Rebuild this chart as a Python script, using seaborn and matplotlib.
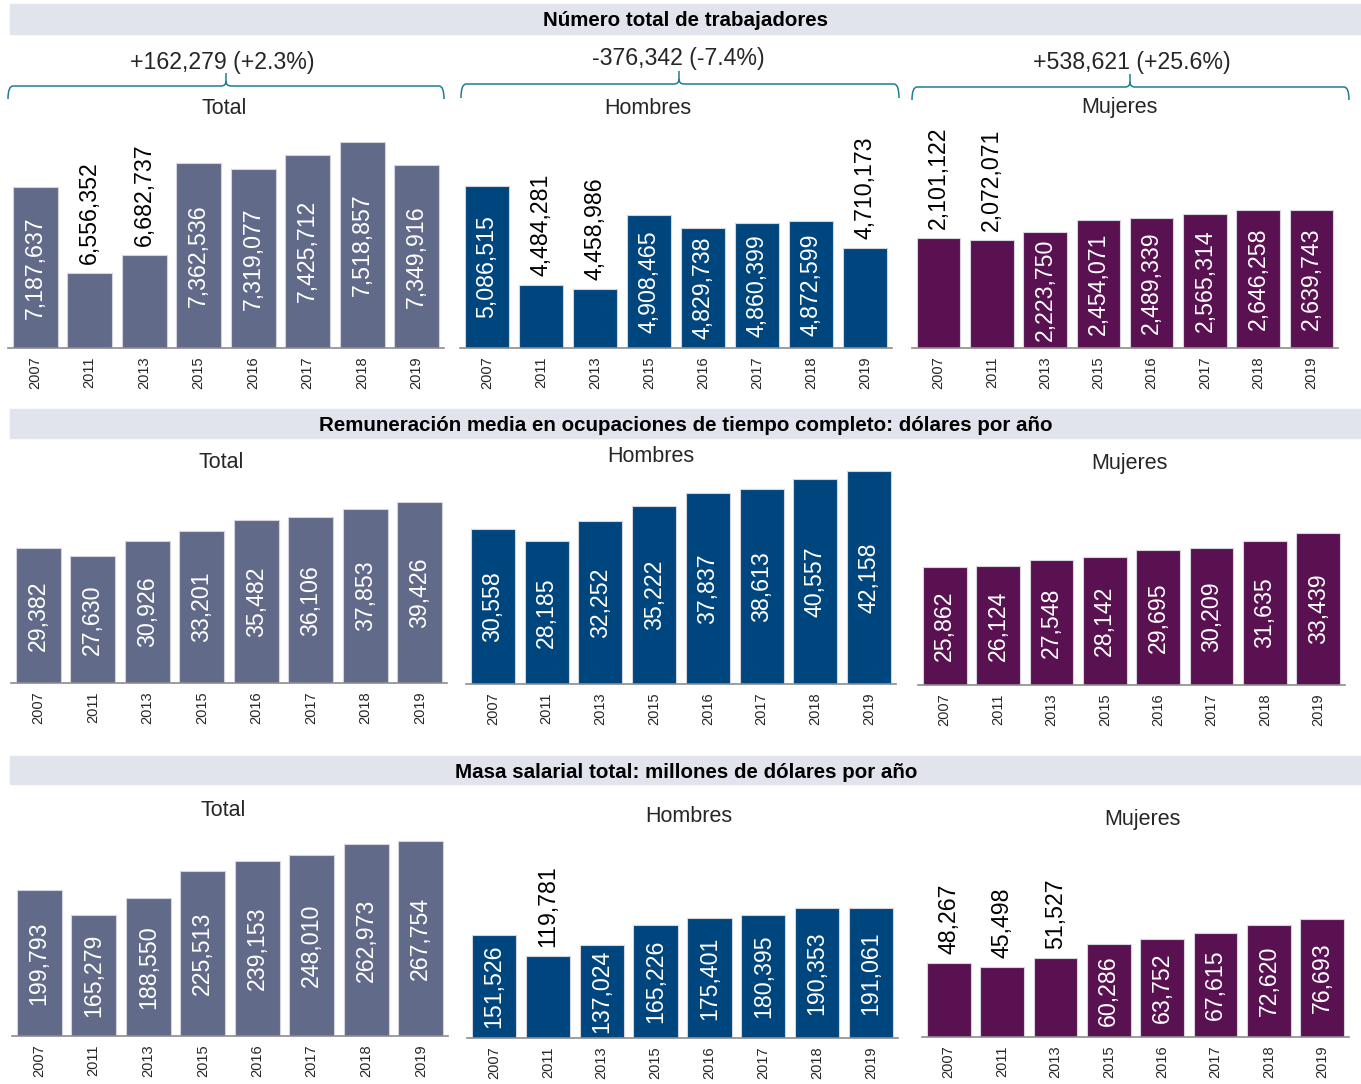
import numpy as np
import matplotlib
matplotlib.use("Agg")
import matplotlib.pyplot as plt
from matplotlib.path import Path
from matplotlib.patches import PathPatch, Rectangle
import seaborn as sns

W, H = 1361, 1084

years = ["2007", "2011", "2013", "2015", "2016", "2017", "2018", "2019"]

# Número total de trabajadores
trab_total = [7187637, 6556352, 6682737, 7362536, 7319077, 7425712, 7518857, 7349916]
trab_hombres = [5086515, 4484281, 4458986, 4908465, 4829738, 4860399, 4872599, 4710173]
trab_mujeres = [2101122, 2072071, 2223750, 2454071, 2489339, 2565314, 2646258, 2639743]

# Remuneración media (dólares por año)
rem_total = [29382, 27630, 30926, 33201, 35482, 36106, 37853, 39426]
rem_hombres = [30558, 28185, 32252, 35222, 37837, 38613, 40557, 42158]
rem_mujeres = [25862, 26124, 27548, 28142, 29695, 30209, 31635, 33439]

# Masa salarial total (millones de dólares por año)
masa_total = [199793, 165279, 188550, 225513, 239153, 248010, 262973, 267754]
masa_hombres = [151526, 119781, 137024, 165226, 175401, 180395, 190353, 191061]
masa_mujeres = [48267, 45498, 51527, 60286, 63752, 67615, 72620, 76693]

headers = [
    "Número total de trabajadores",
    "Remuneración media en ocupaciones de tiempo completo: dólares por año",
    "Masa salarial total: millones de dólares por año",
]

COL_TOTAL = "#626a8a"
COL_HOMBRES = "#00467e"
COL_MUJERES = "#5a1152"
HEADER_BG = "#e1e4ec"
BRACE = "#1f7d91"
AXIS_GRAY = "#8c8c8c"


def fx(x):
    return x / W


def fy(y):
    return 1 - y / H


def fig_rect(x0, x1, y_top, y_base):
    return [x0 / W, 1 - y_base / H, (x1 - x0) / W, (y_base - y_top) / H]


def bar_panel(fig, rect, values, color, ylim, outside):
    ax = fig.add_axes(rect)
    ax.patch.set_alpha(0)
    sns.barplot(x=years, y=values, ax=ax, color=color, saturation=1,
                width=0.82, edgecolor="#d4d4dc", linewidth=0.8)
    ax.set_xlim(-0.5, len(years) - 0.5)
    ax.set_ylim(*ylim)

    for i, v in enumerate(values):
        lab = f"{v:,}"
        if years[i] in outside:
            ax.annotate(lab, (i, v), xytext=(0, 6.5), textcoords="offset points",
                        rotation=90, ha="center", va="bottom", fontsize=16.7,
                        color="black", annotation_clip=False)
        else:
            ax.text(i, (ylim[0] + v) / 2, lab, rotation=90, ha="center",
                    va="center", fontsize=16.7, color="white")

    ax.set_xticks(range(len(years)))
    ax.set_xticklabels(years, rotation=90, fontsize=10.5)
    ax.tick_params(axis="x", which="major", length=0, pad=6)
    ax.set_xticks(np.arange(-0.5, len(years), 1), minor=True)
    ax.tick_params(axis="x", which="minor", length=4, width=1, color=AXIS_GRAY,
                   direction="out")
    ax.set_yticks([])
    ax.set_xlabel("")
    ax.set_ylabel("")
    for s in ["top", "right", "left"]:
        ax.spines[s].set_visible(False)
    ax.spines["bottom"].set_color(AXIS_GRAY)
    ax.spines["bottom"].set_linewidth(1.2)
    return ax


def draw_brace(fig, x0, x1, xm, y_line, y_end, y_tip):
    r = 5
    verts = [
        (x0, y_end), (x0, y_line), (x0 + r, y_line),
        (xm - r, y_line),
        (xm, y_line), (xm, y_line - r),
        (xm, y_tip),
        (xm, y_line - r),
        (xm, y_line), (xm + r, y_line),
        (x1 - r, y_line),
        (x1, y_line), (x1, y_end),
    ]
    codes = [Path.MOVETO, Path.CURVE3, Path.CURVE3, Path.LINETO,
             Path.CURVE3, Path.CURVE3, Path.LINETO, Path.MOVETO,
             Path.CURVE3, Path.CURVE3, Path.LINETO, Path.CURVE3, Path.CURVE3]
    verts = [(fx(x), fy(y)) for x, y in verts]
    patch = PathPatch(Path(verts, codes), transform=fig.transFigure,
                      facecolor="none", edgecolor=BRACE, linewidth=1.1)
    fig.add_artist(patch)


def header(fig, y0, y1, text):
    fig.add_artist(Rectangle((fx(10), fy(y1)), (W - 10) / W, (y1 - y0) / H,
                             transform=fig.transFigure, color=HEADER_BG, zorder=0))
    fig.text(fx(686), fy((y0 + y1) / 2 + 2), text, ha="center", va="center",
             fontsize=14.8, fontweight="bold", color="black")


def change_text(vals):
    d = vals[-1] - vals[0]
    pct = d / vals[0] * 100
    sign = "+" if d >= 0 else "-"
    return f"{sign}{abs(d):,} ({sign}{abs(pct):.1f}%)"


sns.set_style("white")
plt.rcParams["font.family"] = ["Liberation Sans", "DejaVu Sans"]

fig = plt.figure(figsize=(W / 100, H / 100), dpi=100)

# headers
header(fig, 4, 34, headers[0])
header(fig, 409, 438, headers[1])
header(fig, 756, 784, headers[2])

# row 1: trabajadores
bar_panel(fig, fig_rect(8, 444, 130, 348), trab_total, COL_TOTAL,
          (6.0e6, 7.608e6), ["2011", "2013"])
bar_panel(fig, fig_rect(460, 892, 130, 348), trab_hombres, COL_HOMBRES,
          (4.1e6, 5.424e6), ["2011", "2013", "2019"])
bar_panel(fig, fig_rect(912, 1338, 130, 348), trab_mujeres, COL_MUJERES,
          (0, 4.176e6), ["2007", "2011"])

# row 2: remuneración
bar_panel(fig, fig_rect(11, 447, 440, 683), rem_total, COL_TOTAL,
          (0, 52940), [])
bar_panel(fig, fig_rect(466, 896, 440, 684), rem_hombres, COL_HOMBRES,
          (0, 48220), [])
bar_panel(fig, fig_rect(918, 1345, 440, 685), rem_mujeres, COL_MUJERES,
          (0, 53850), [])

# row 3: masa salarial
bar_panel(fig, fig_rect(12, 448, 790, 1036), masa_total, COL_TOTAL,
          (0, 337000), [])
bar_panel(fig, fig_rect(467, 898, 790, 1038), masa_hombres, COL_HOMBRES,
          (0, 363800), ["2011"])
bar_panel(fig, fig_rect(922, 1349, 790, 1037), masa_mujeres, COL_MUJERES,
          (0, 160400), ["2007", "2011", "2013"])

# braces with change 2007-2019
draw_brace(fig, 8, 444, 226, 86, 99, 73)
draw_brace(fig, 461, 899, 679, 84, 98, 71)
draw_brace(fig, 912, 1349, 1130, 87, 100, 74)
fig.text(fx(222), fy(62), change_text(trab_total), ha="center", va="center", fontsize=16.7)
fig.text(fx(678), fy(58), change_text(trab_hombres), ha="center", va="center", fontsize=16.7)
fig.text(fx(1132), fy(63), change_text(trab_mujeres), ha="center", va="center", fontsize=16.7)

# panel subtitles
subs = [
    ("Total", 224, 109), ("Hombres", 648, 109), ("Mujeres", 1119, 108),
    ("Total", 221, 462), ("Hombres", 651, 457), ("Mujeres", 1129, 463),
    ("Total", 223, 811), ("Hombres", 689, 817), ("Mujeres", 1142, 819),
]
for txt, x, y in subs:
    fig.text(fx(x), fy(y), txt, ha="center", va="center", fontsize=15.5)

fig.savefig("out.png", dpi=100)
